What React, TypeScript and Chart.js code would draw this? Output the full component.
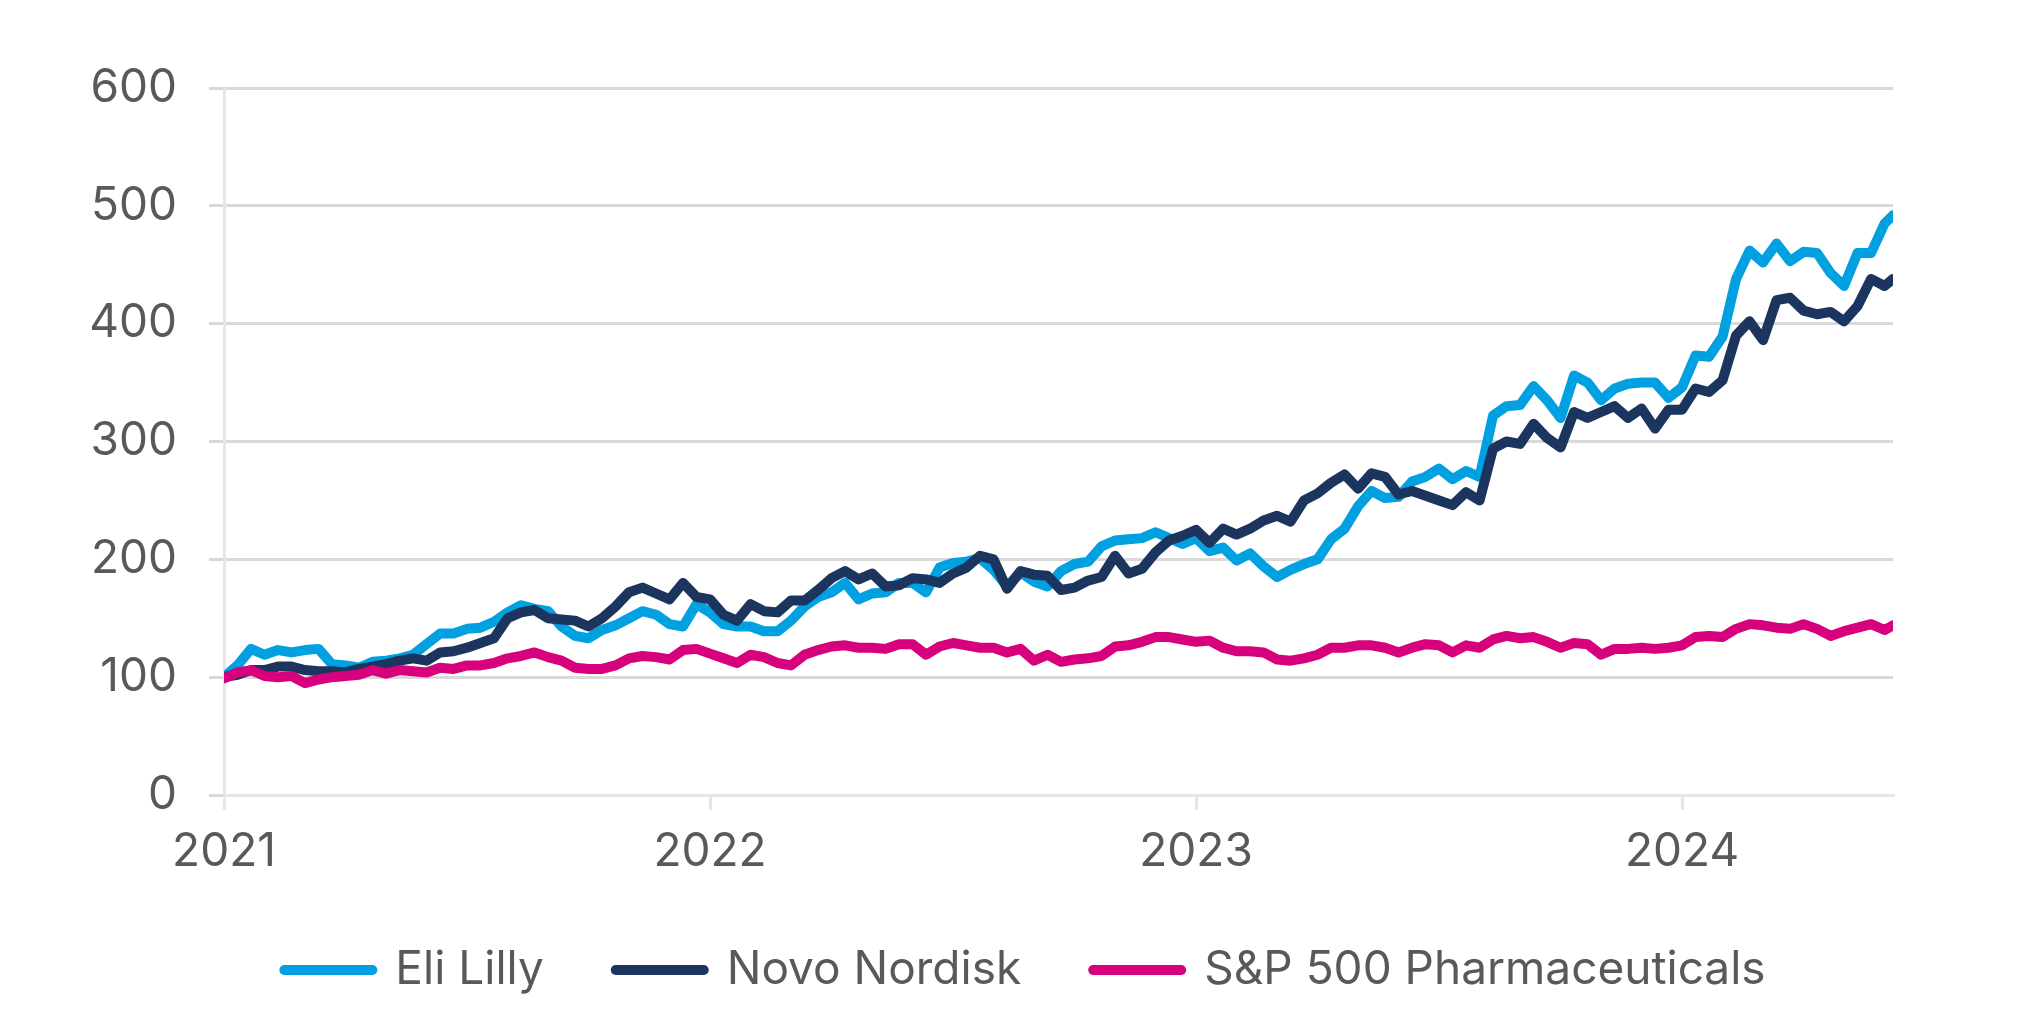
import React, { useEffect, useRef } from 'react';
import { Chart, registerables } from 'chart.js';

// Register all Chart.js components
Chart.register(...registerables);

const seriesNames = ['Eli Lilly', 'Novo Nordisk', 'S&P 500 Pharmaceuticals'];
const seriesColors = ['#00a0e1', '#1c355e', '#d7007d'];
const yearTicks = [2021, 2022, 2023, 2024];
const startYear = 2021;
const pointsPerYear = 36; // roughly every 10 days
const lastDate = 2024.434;

const eliLilly = [
  100, 110, 124, 119, 123, 121, 123, 124, 111, 110,
  108, 113, 114, 116, 119, 128, 137, 137, 141, 142,
  147, 155, 161, 158, 156, 143, 135, 133, 140, 144,
  150, 156, 153, 145, 143, 162, 155, 145, 143, 143,
  139, 139, 148, 160, 168, 172, 180, 166, 171, 172,
  180, 180, 172, 193, 197, 198, 201, 191, 177, 189,
  181, 177, 190, 196, 198, 211, 216, 217, 218, 223,
  218, 213, 218, 207, 210, 199, 205, 194, 185, 191,
  196, 200, 217, 226, 245, 258, 252, 253, 266, 270,
  277, 268, 275, 270, 322, 330, 331, 347, 335, 320,
  356, 350, 335, 345, 349, 350, 350, 337, 346, 373,
  372, 389, 438, 462, 452, 468, 453, 461, 460, 443,
  432, 460, 460, 485, 492,
];

const novoNordisk = [
  100, 102, 106, 106, 109, 109, 106, 105, 105, 104,
  107, 109, 111, 114, 116, 114, 121, 122, 125, 129,
  133, 150, 155, 157, 150, 149, 148, 143, 150, 160,
  172, 176, 171, 166, 180, 168, 166, 153, 148, 162,
  156, 155, 165, 165, 174, 184, 190, 183, 188, 177,
  178, 184, 183, 180, 188, 193, 203, 200, 175, 190,
  187, 186, 174, 176, 182, 185, 203, 188, 192, 206,
  216, 220, 225, 214, 226, 221, 226, 233, 237, 232,
  250, 256, 265, 272, 260, 273, 270, 255, 258, 254,
  250, 246, 257, 250, 294, 300, 298, 315, 303, 295,
  325, 320, 325, 330, 320, 328, 311, 327, 327, 345,
  342, 352, 390, 402, 386, 420, 422, 411, 408, 410,
  402, 415, 438, 432, 438,
];

const spPharma = [
  99, 104, 106, 101, 100, 101, 95, 98, 100, 101,
  102, 106, 103, 106, 105, 104, 108, 107, 110, 110,
  112, 116, 118, 121, 117, 114, 108, 107, 107, 110,
  116, 118, 117, 115, 123, 124, 120, 116, 112, 119,
  117, 112, 110, 119, 123, 126, 127, 125, 125, 124,
  128, 128, 119, 126, 129, 127, 125, 125, 121, 124,
  114, 119, 113, 115, 116, 118, 126, 127, 130, 134,
  134, 132, 130, 131, 125, 122, 122, 121, 115, 114,
  116, 119, 125, 125, 127, 127, 125, 121, 125, 128,
  127, 121, 127, 125, 132, 135, 133, 134, 130, 125,
  129, 128, 119, 124, 124, 125, 124, 125, 127, 134,
  135, 134, 141, 145, 144, 142, 141, 145, 141, 135,
  139, 142, 145, 140, 144,
];

const FONT = 'Inter, "Open Sans", sans-serif';
const FONT_SIZE = 46;
const TEXT_COLOR = '#595959';

const dates = eliLilly.map((_, i) =>
  i === eliLilly.length - 1 ? lastDate : startYear + i / pointsPerYear
);

const PharmaChart: React.FC = () => {
  const canvasRef = useRef<HTMLCanvasElement>(null);
  const chartInstance = useRef<Chart | null>(null);

  useEffect(() => {
    if (!canvasRef.current) return;
    if (chartInstance.current) chartInstance.current.destroy();

    const allSeries = [eliLilly, novoNordisk, spPharma];
    // draw order: S&P on top, then Novo, then Lilly
    const drawOrder = [2, 1, 0];

    chartInstance.current = new Chart(canvasRef.current, {
      type: 'line',
      data: {
        datasets: allSeries.map((values, s) => ({
          label: seriesNames[s],
          data: values.map((v, i) => ({ x: dates[i], y: v })),
          borderColor: seriesColors[s],
          backgroundColor: seriesColors[s],
          borderWidth: 10,
          pointRadius: 0,
          tension: 0,
          fill: false,
          borderJoinStyle: 'round',
          borderCapStyle: 'round',
          order: drawOrder[s],
        })),
      },
      options: {
        responsive: true,
        maintainAspectRatio: false,
        animation: false,
        layout: {
          padding: { top: 88, right: 0, bottom: 33, left: 22 },
        },
        plugins: {
          tooltip: { enabled: false },
          legend: {
            position: 'bottom',
            labels: {
              usePointStyle: true,
              pointStyleWidth: 88,
              padding: 72,
              color: TEXT_COLOR,
              font: { family: FONT, size: FONT_SIZE },
              generateLabels: (chart) =>
                chart.data.datasets.map((ds, i) => ({
                  text: ds.label as string,
                  fillStyle: seriesColors[i],
                  strokeStyle: seriesColors[i],
                  lineWidth: 10,
                  lineCap: 'round',
                  pointStyle: 'line',
                  hidden: false,
                  datasetIndex: i,
                  fontColor: TEXT_COLOR,
                })),
            },
          },
        },
        scales: {
          x: {
            type: 'linear',
            min: startYear,
            max: lastDate,
            afterBuildTicks: (scale) => {
              scale.ticks = yearTicks.map((v) => ({ value: v }));
            },
            afterFit: (scale) => {
              scale.height = 80;
            },
            grid: {
              drawOnChartArea: false,
              drawTicks: true,
              tickLength: 15,
              color: '#e6e6e6',
              lineWidth: 3,
            },
            border: { color: '#e6e6e6', width: 3 },
            ticks: {
              padding: 15,
              color: TEXT_COLOR,
              font: { family: FONT, size: FONT_SIZE },
              maxRotation: 0,
              callback: (value) => String(value),
            },
          },
          y: {
            min: 0,
            max: 600,
            afterFit: (scale) => {
              scale.width = 202;
            },
            grid: {
              color: '#d9d9d9',
              lineWidth: 3,
              tickLength: 15,
            },
            border: { color: '#e6e6e6', width: 3 },
            ticks: {
              stepSize: 100,
              padding: 32,
              color: TEXT_COLOR,
              font: { family: FONT, size: FONT_SIZE },
              callback: (value) => String(value),
            },
          },
          // empty right-hand axis that only reserves the right margin
          spacer: {
            type: 'linear',
            position: 'right',
            afterFit: (scale) => {
              scale.width = 135;
            },
            grid: { display: false },
            border: { display: false },
            ticks: { display: false },
          },
        },
      },
    });

    return () => {
      if (chartInstance.current) {
        chartInstance.current.destroy();
        chartInstance.current = null;
      }
    };
  }, []);

  return (
    <div
      style={{
        position: 'fixed',
        left: 0,
        top: 0,
        width: 2028,
        height: 1036,
        background: '#ffffff',
      }}
    >
      <canvas ref={canvasRef}></canvas>
    </div>
  );
};

export default function App() {
  return <PharmaChart />;
}
